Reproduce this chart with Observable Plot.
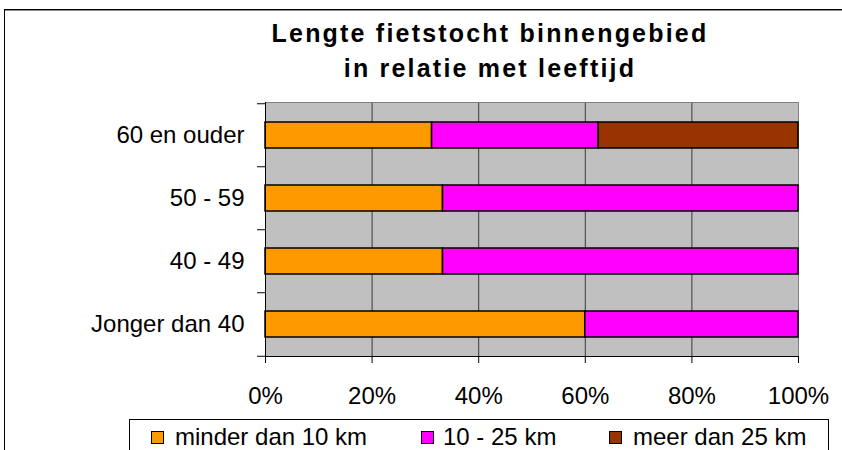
<!DOCTYPE html>
<html>
<head>
<meta charset="utf-8">
<script src="https://cdn.jsdelivr.net/npm/d3@7"></script>
<script src="https://cdn.jsdelivr.net/npm/@observablehq/plot@0.6"></script>
<style>
  html, body { margin: 0; padding: 0; background: #fff; color: #000; }
  #wrap { position: relative; width: 842px; height: 450px; overflow: hidden; font-family: "Liberation Sans", Arial, sans-serif; }
  #outer { position: absolute; left: 4px; top: 9px; width: 900px; height: 500px; border: 1px solid #000; box-shadow: inset 0 1px 0 #888; box-sizing: border-box; }
  #chart { position: absolute; left: 0; top: 0; }
  #title { position: absolute; left: 0; top: 16px; width: 980px; text-align: center; font-weight: bold; font-size: 25px; line-height: 35px; letter-spacing: 2.2px; }
  #legend { position: absolute; left: 129px; top: 419px; width: 700px; height: 80px; border: 1px solid #000; box-sizing: border-box; background: #fff; }
  .sw { position: absolute; width: 13px; height: 13px; border: 1px solid #000; box-sizing: border-box; }
  .lt { position: absolute; font-size: 24px; line-height: 24px; white-space: nowrap; }
</style>
</head>
<body>
<div id="wrap">
  <div id="outer"></div>
  <div id="chart"></div>
  <div id="title"></div>
  <div id="legend"></div>
</div>
<script>
// ---- data ----
const categories = ["60 en ouder", "50 - 59", "40 - 49", "Jonger dan 40"];
const series = ["minder dan 10 km", "10 - 25 km", "meer dan 25 km"];
const minderDan10 = [31.25, 33.3, 33.3, 60];
const van10tot25 = [31.25, 66.7, 66.7, 40];
const meerDan25 = [37.5, 0, 0, 0];
const seriesColors = ["#FF9900", "#FF00FF", "#993300"];
const xTicks = [0, 20, 40, 60, 80, 100];
const titleLines = ["Lengte fietstocht binnengebied", "in relatie met leeftijd"];

// ---- tidy table ----
const seriesValues = [minderDan10, van10tot25, meerDan25];
const rows = [];
categories.forEach((c, i) => {
  series.forEach((s, j) => {
    const v = seriesValues[j][i];
    if (v > 0) rows.push({cat: c, series: s, value: v});
  });
});

// ---- layout ----
const W = 842, H = 450;
const mTop = 102, mBottom = 94, mLeft = 265, mRight = 44;
const step = (H - mTop - mBottom) / categories.length;

const plot = Plot.plot({
  width: W,
  height: H,
  marginTop: mTop,
  marginBottom: mBottom,
  marginLeft: mLeft,
  marginRight: mRight,
  style: {fontFamily: "'Liberation Sans', Arial, sans-serif", fontSize: "24px", color: "#000", background: "transparent", overflow: "visible"},
  x: {domain: [0, 100]},
  y: {domain: categories, paddingInner: 0.59, paddingOuter: 0.295},
  color: {domain: series, range: seriesColors},
  marks: [
    Plot.frame({fill: "#c0c0c0"}),
    Plot.ruleX(xTicks.filter(d => d > 0 && d < 100), {stroke: "#3a3a3a", strokeWidth: 1}),
    Plot.frame({anchor: "top", stroke: "#808080"}),
    Plot.frame({anchor: "right", stroke: "#808080"}),
    Plot.barX(rows, Plot.stackX({y: "cat", x: "value", fill: "series", stroke: "#000", strokeWidth: 1.5})),
    Plot.ruleX([0], {stroke: "#000"}),
    Plot.frame({anchor: "bottom", stroke: "#000"}),
    Plot.axisX({ticks: xTicks, tickSize: 7, tickPadding: 23, tickFormat: d => d + "%", label: null}),
    Plot.axisY({tickSize: 0, tickPadding: 21, label: null}),
    Plot.axisY({tickSize: 8, text: null, label: null, dy: -step / 2}),
    Plot.axisY({ticks: [categories[categories.length - 1]], tickSize: 8, text: null, label: null, dy: step / 2})
  ]
});
document.getElementById("chart").appendChild(plot);

// ---- title ----
const t = document.getElementById("title");
titleLines.forEach(l => { const d = document.createElement("div"); d.textContent = l; t.appendChild(d); });

// ---- legend ----
const lg = document.getElementById("legend");
const swX = [21, 291, 479];   // relative to legend box
const txX = [45, 313, 503];
series.forEach((s, i) => {
  const sw = document.createElement("div");
  sw.className = "sw";
  sw.style.left = swX[i] + "px";
  sw.style.top = "11px";
  sw.style.background = seriesColors[i];
  lg.appendChild(sw);
  const tx = document.createElement("div");
  tx.className = "lt";
  tx.style.left = txX[i] + "px";
  tx.style.top = "5px";
  tx.textContent = s;
  lg.appendChild(tx);
});
</script>
</body>
</html>
